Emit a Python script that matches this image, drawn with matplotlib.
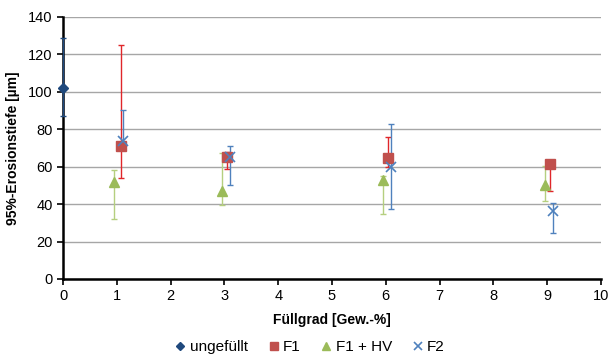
import numpy as np
import matplotlib
matplotlib.use("Agg")
import matplotlib.pyplot as plt

plt.rcParams['font.family'] = ['Liberation Sans', 'DejaVu Sans']

# ungefuellt
x_u = [0.0]
y_u = [102]
lo_u = [87]
hi_u = [129]

# F1
x_f1 = [1.07, 3.05, 6.05, 9.05]
y_f1 = [71, 65, 64.5, 61.5]
lo_f1 = [54, 59, 60, 47]
hi_f1 = [125, 68, 76, 62]

# F1 + HV
x_hv = [0.95, 2.95, 5.95, 8.95]
y_hv = [52, 47, 53, 50]
lo_hv = [32, 39.5, 35, 41.5]
hi_hv = [58, 67.5, 55, 60.5]

# F2
x_f2 = [1.12, 3.1, 6.1, 9.1]
y_f2 = [74, 65, 60, 36.5]
lo_f2 = [69, 50, 37.5, 24.5]
hi_f2 = [90.5, 71, 83, 40.5]

fig = plt.figure(figsize=(6.16, 3.54), dpi=100)
ax = fig.add_axes([63/616, 1-279/354, (601-63)/616, (279-17)/354])

def eb(x, y, lo, hi, mk, mc, ec, ms, label, mew=1):
    y = np.array(y, float)
    yerr = [y - np.array(lo), np.array(hi) - y]
    ax.errorbar(x, y, yerr=yerr, fmt='none', ecolor=ec, elinewidth=1, capsize=2.5, capthick=1, zorder=3, clip_on=False)
    ax.plot(x, y, linestyle='none', marker=mk, color=mc, markersize=ms, markeredgewidth=mew, label=label, zorder=4, clip_on=False)

eb(x_u, y_u, lo_u, hi_u, 'D', '#1F497D', '#1F497D', 5, 'ungefüllt')
eb(x_f1, y_f1, lo_f1, hi_f1, 's', '#C0504D', '#E0262A', 7, 'F1')
eb(x_hv, y_hv, lo_hv, hi_hv, '^', '#9BBB59', '#B5CF7F', 7, 'F1 + HV')
eb(x_f2, y_f2, lo_f2, hi_f2, 'x', '#4F81BD', '#4F81BD', 7, 'F2', mew=1.2)

ax.set_xlim(0, 10)
ax.set_ylim(0, 140)
ax.set_xticks(range(0, 11))
ax.set_yticks(range(0, 141, 20))
ax.yaxis.grid(True, color='#A6A6A6', linewidth=1)
ax.set_axisbelow(True)
for s in ['top', 'right']:
    ax.spines[s].set_visible(False)
for s in ['left', 'bottom']:
    ax.spines[s].set_linewidth(1.8)
    ax.spines[s].set_color('black')
ax.tick_params(labelsize=10.5, length=4, width=1.2, direction='out')
ax.set_xlabel('Füllgrad [Gew.-%]', fontsize=10, fontweight='bold', labelpad=7)
ax.set_ylabel('95%-Erosionstiefe [µm]', fontsize=10, fontweight='bold', labelpad=6)

fig.legend(loc='lower center', bbox_to_anchor=(0.5, -0.04), ncol=4, frameon=False,
           fontsize=11, handletextpad=0.0, columnspacing=1.1, handlelength=1.2, markerscale=0.8)

fig.savefig('out.png', dpi=100)
